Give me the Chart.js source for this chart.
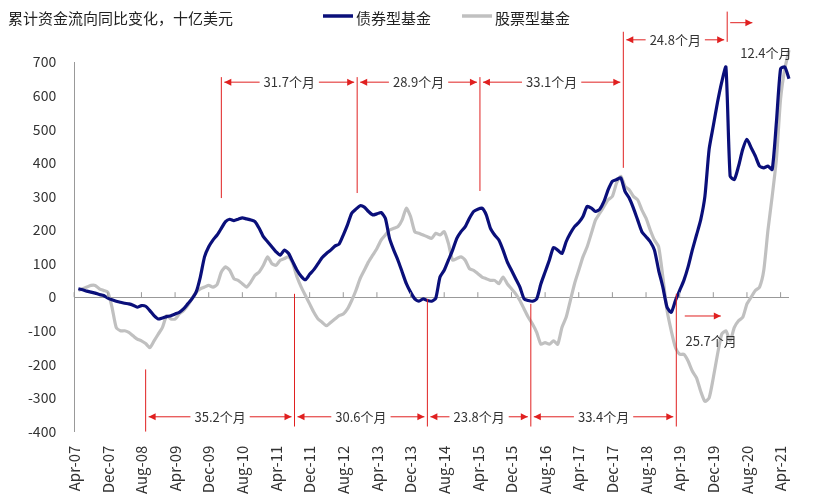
<!DOCTYPE html>
<html><head><meta charset="utf-8">
<script src="https://cdn.jsdelivr.net/npm/chart.js@4.4.0/dist/chart.umd.min.js"></script>
<style>html,body{margin:0;padding:0;background:#fff}#w{width:813px;height:500px}</style>
</head><body><div id="w"><canvas id="c"></canvas></div>
<script>
const monthNames=['Jan','Feb','Mar','Apr','May','Jun','Jul','Aug','Sep','Oct','Nov','Dec'];
const labels=[];for(let i=0;i<=170;i++){const mi=(3+i)%12,yr=7+Math.floor((3+i)/12);labels.push(monthNames[mi]+'-'+String(yr).padStart(2,'0'));}
const bondFunds=[null,25,22,18,15,12,8,5,-3,-8,-12,-15,-18,-20,-24,-30,-25,-27,-40,-55,-65,-62,-58,-55,-50,-45,-35,-20,-5,15,60,120,150,170,185,205,225,232,228,232,236,233,230,225,205,180,165,150,135,125,140,130,105,80,62,52,68,82,100,118,130,140,152,158,185,215,250,262,272,268,255,245,248,252,235,175,140,110,75,40,15,-5,-12,-5,-10,-12,-3,60,80,110,140,175,195,210,235,255,262,265,245,205,185,170,140,105,80,55,30,-5,-10,-12,-5,40,75,110,148,140,130,165,190,210,222,240,270,265,255,262,285,320,345,350,355,315,295,265,230,195,180,165,140,80,30,-30,-45,-10,20,50,90,140,185,230,300,440,510,580,640,685,360,350,390,440,470,445,420,390,385,390,380,520,680,685,650];
const equityFunds=[null,20,25,30,35,35,25,20,15,-30,-90,-100,-100,-105,-115,-125,-130,-138,-150,-130,-110,-90,-55,-65,-65,-50,-40,-25,-5,15,25,30,35,30,38,75,90,80,55,50,40,30,45,65,75,95,120,100,95,110,115,120,100,60,30,5,-20,-45,-65,-75,-85,-75,-65,-55,-50,-35,-10,20,55,80,105,125,145,170,185,200,205,210,230,265,240,195,190,185,180,175,190,185,195,160,110,115,120,110,85,80,70,60,55,50,50,40,60,40,25,10,-10,-35,-60,-80,-105,-140,-135,-140,-130,-140,-90,-60,-10,40,80,120,150,190,230,250,270,290,300,340,360,330,320,300,290,260,235,200,170,150,60,-40,-100,-150,-170,-170,-190,-220,-240,-280,-310,-300,-240,-170,-110,-100,-130,-90,-70,-60,-20,0,20,30,80,200,300,410,590,680,735];
const yTicks=[-400,-300,-200,-100,0,100,200,300,400,500,600,700];
const vLines=[[35,295,655],[67.3,310,655],[96.5,316,655],[130.6,385,790],[155.3,760,850],[17,-215,-400],[52.4,10,-385],[84,-5,-385],[108.6,-20,-385],[143.2,10,-385]];
const arrows=[[35,67.3,640,'31.7个月',null,null,true],[67.3,96.5,640,'28.9个月',null,null,true],[96.5,130.6,640,'33.1个月',null,null,true],[130.6,155.3,766,'24.8个月',null,null,true],[155.3,162,817,'12.4个月',164.5,728,false],[17,52.4,-356,'35.2个月',null,null,true],[52.4,84,-356,'30.6个月',null,null,true],[84,108.6,-356,'23.8个月',null,null,true],[108.6,143.2,-356,'33.4个月',null,null,true],[144.5,154.5,-56,'25.7个月',151.5,-130,false]];
const F='"Noto Sans CJK SC","Noto Sans",sans-serif';
function head(ctx,x,y,dir){ctx.beginPath();ctx.moveTo(x,y);ctx.lineTo(x-dir*7,y-3.5);ctx.lineTo(x-dir*7,y+3.5);ctx.closePath();ctx.fill();}
const annot={id:'annot',afterDatasetsDraw(ch){const ctx=ch.ctx,xs=ch.scales.x,ys=ch.scales.y;ctx.save();
 ctx.strokeStyle='#999';ctx.lineWidth=1;const y0=ys.getPixelForValue(0);
 for(let i=0;i<labels.length;i+=8){const x=xs.getPixelForValue(i);ctx.beginPath();ctx.moveTo(x,y0);ctx.lineTo(x,y0-5);ctx.stroke();}
 ctx.strokeStyle='#e02020';ctx.fillStyle='#e02020';ctx.lineWidth=1;
 const px=m=>xs.getPixelForValue(0)+(xs.getPixelForValue(1)-xs.getPixelForValue(0))*m;
 vLines.forEach(v=>{const x=px(v[0]);ctx.beginPath();ctx.moveTo(x,ys.getPixelForValue(v[1]));ctx.lineTo(x,ys.getPixelForValue(v[2]));ctx.stroke();});
 ctx.font='13px '+F;ctx.textBaseline='middle';
 arrows.forEach(a=>{const x1=px(a[0])+3,x2=px(a[1])-3,y=ys.getPixelForValue(a[2]);ctx.fillStyle='#e02020';
  if(a[6]){const tw=ctx.measureText(a[3]).width+8,cx=(x1+x2)/2;
   ctx.beginPath();ctx.moveTo(x1,y);ctx.lineTo(cx-tw/2,y);ctx.moveTo(cx+tw/2,y);ctx.lineTo(x2,y);ctx.stroke();
   head(ctx,x1,y,-1);head(ctx,x2,y,1);ctx.fillStyle='#333';ctx.textAlign='center';ctx.fillText(a[3],cx,y);}
  else{ctx.beginPath();ctx.moveTo(x1,y);ctx.lineTo(x2,y);ctx.stroke();head(ctx,x2,y,1);
   ctx.fillStyle='#333';ctx.textAlign='center';ctx.fillText(a[3],px(a[4]),ys.getPixelForValue(a[5]));}
 });
 ctx.textAlign='left';ctx.fillStyle='#222';ctx.font='15px '+F;ctx.fillText('累计资金流向同比变化，十亿美元',8,18);
 ctx.lineWidth=3.5;ctx.strokeStyle='#0a0f7a';ctx.beginPath();ctx.moveTo(323,16);ctx.lineTo(353,16);ctx.stroke();ctx.fillText('债券型基金',356,18);
 ctx.strokeStyle='#c0c0c0';ctx.beginPath();ctx.moveTo(462,16);ctx.lineTo(492,16);ctx.stroke();ctx.fillText('股票型基金',495,18);
 ctx.restore();}};
new Chart(document.getElementById('c'),{type:'line',
 data:{labels,datasets:[
  {label:'股票型基金',data:equityFunds,borderColor:'#c0c0c0',borderWidth:3.2,pointRadius:0,tension:0.2,clip:false,order:2},
  {label:'债券型基金',data:bondFunds,borderColor:'#0a0f7a',borderWidth:3.2,pointRadius:0,tension:0.2,clip:false,order:1}]},
 options:{responsive:true,maintainAspectRatio:false,animation:false,layout:{padding:{top:62,right:2,left:10,bottom:0}},
  plugins:{legend:{display:false},tooltip:{enabled:false}},
  scales:{x:{offset:false,grid:{display:false},border:{display:false},
    ticks:{autoSkip:false,maxRotation:90,minRotation:90,padding:6,color:'#333',font:{family:F,size:15},callback:(v,i)=>i%8===0?labels[i]:''}},
   y:{min:-400,max:700,afterBuildTicks:s=>{s.ticks=yTicks.map(v=>({value:v}));},border:{display:true,color:'#999'},
    grid:{drawOnChartArea:true,drawTicks:false,color:c=>c.tick&&c.tick.value===0?'#999':'rgba(0,0,0,0)'},
    ticks:{color:'#333',font:{family:F,size:14},padding:18}}}},
 plugins:[annot]});
</script></body></html>
